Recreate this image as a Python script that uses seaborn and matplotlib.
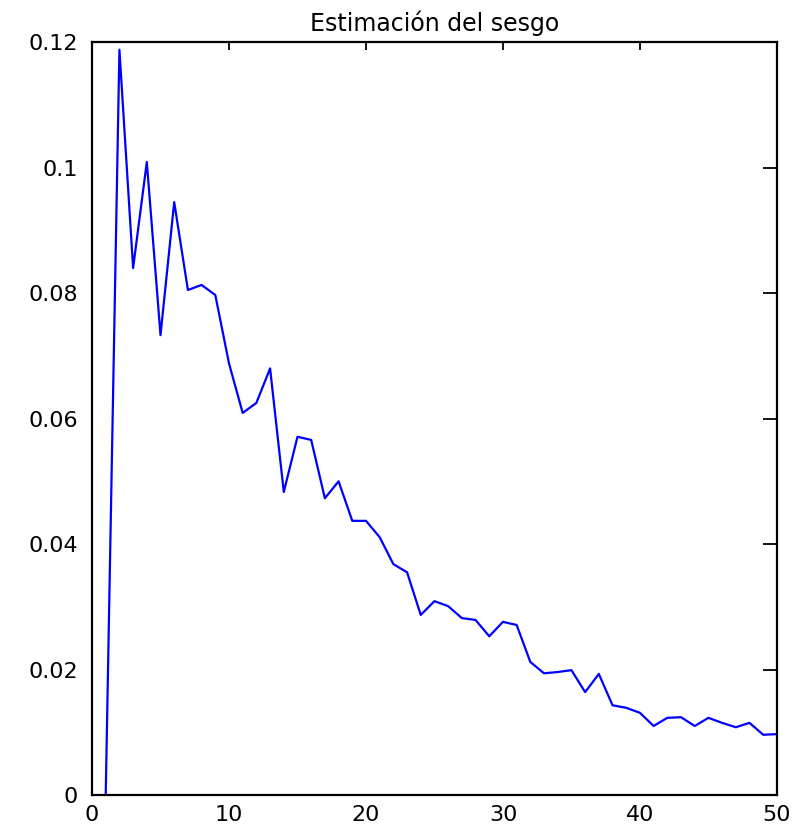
import numpy as np
import pandas as pd
import matplotlib
matplotlib.use("Agg")
import matplotlib.pyplot as plt
import seaborn as sns

# Estimated bias for each sample size n = 1..50
n_values = list(range(1, 51))
bias = [
    0.0000, 0.1188, 0.0840, 0.1009, 0.0733, 0.0945, 0.0805, 0.0813, 0.0797, 0.0688,
    0.0609, 0.0625, 0.0680, 0.0483, 0.0571, 0.0566, 0.0473, 0.0500, 0.0437, 0.0437,
    0.0411, 0.0368, 0.0355, 0.0287, 0.0309, 0.0301, 0.0282, 0.0279, 0.0253, 0.0276,
    0.0271, 0.0212, 0.0194, 0.0196, 0.0199, 0.0164, 0.0193, 0.0143, 0.0139, 0.0131,
    0.0110, 0.0123, 0.0124, 0.0110, 0.0123, 0.0115, 0.0108, 0.0115, 0.0096, 0.0097,
]
x_ticks = [0, 10, 20, 30, 40, 50]
y_ticks = [0, 0.02, 0.04, 0.06, 0.08, 0.10, 0.12]
y_tick_labels = ["0", "0.02", "0.04", "0.06", "0.08", "0.1", "0.12"]
title = "Estimación del sesgo"

df = pd.DataFrame({"n": n_values, "sesgo": bias})

sns.set_style("white")
plt.rcParams["font.family"] = ["DejaVu Sans"]
plt.rcParams["text.color"] = "black"

fig = plt.figure(figsize=(7.96, 8.27), dpi=100)
ax = fig.add_axes([0.1156, 0.0387, 0.8604, 0.9103])

sns.lineplot(data=df, x="n", y="sesgo", ax=ax, color="#0000ff", linewidth=1.6)

ax.set_xlim(0, 50)
ax.set_ylim(0, 0.12)
ax.set_xticks(x_ticks)
ax.set_xticklabels([str(t) for t in x_ticks])
ax.set_yticks(y_ticks)
ax.set_yticklabels(y_tick_labels)
ax.set_xlabel("")
ax.set_ylabel("")
ax.set_title(title, fontsize=17, pad=8, color="black")

for side in ["left", "right", "top", "bottom"]:
    ax.spines[side].set_visible(True)
    ax.spines[side].set_color("black")
    ax.spines[side].set_linewidth(1.6)

ax.tick_params(axis="both", which="major", direction="in", colors="black",
               labelsize=16, width=1.3, top=True, right=True,
               labeltop=False, labelright=False)
ax.tick_params(axis="y", length=10, pad=10)
ax.tick_params(axis="x", length=5.5, pad=7)

fig.savefig("out.png", dpi=100, facecolor="white")
